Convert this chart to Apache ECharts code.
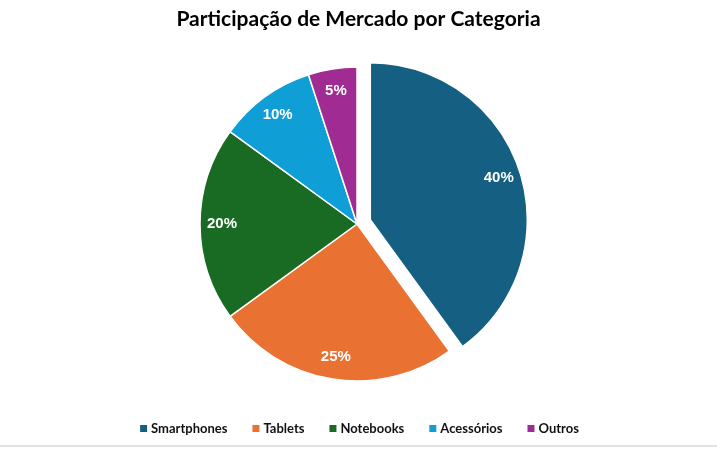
<!DOCTYPE html>
<html>
<head>
<meta charset="utf-8">
<script src="https://cdn.jsdelivr.net/npm/echarts@6/dist/echarts.min.js"></script>
<style>
  html, body { margin: 0; padding: 0; background: #fff; }
  #main { width: 717px; height: 449px; }
</style>
</head>
<body>
<div id="main"></div>
<script>
// dados do gráfico
const categorias = ["Smartphones", "Tablets", "Notebooks", "Acessórios", "Outros"];
const valores = [40, 25, 20, 10, 5];
const cores = ["#156082", "#E97132", "#196B24", "#0F9ED5", "#A02B93"];

const chart = echarts.init(document.getElementById("main"), null, { renderer: "canvas" });

const FONT = "Lato, 'Open Sans', sans-serif";
const CENTRO = [357, 224];
const RAIO = 157;
const OFFSET = 14;

// fatia destacada: a primeira (Smartphones)
const dados = categorias.map((nome, i) => ({
  name: nome,
  value: valores[i],
  selected: i === 0,
  itemStyle: { color: cores[i] },
}));

chart.setOption({
  animation: false,
  title: {
    text: "Participação de Mercado por Categoria",
    left: "center",
    top: 4,
    textStyle: { fontFamily: FONT, fontSize: 21, fontWeight: "bold", color: "#000" },
  },
  legend: {
    bottom: 9,
    left: "center",
    icon: "rect",
    itemWidth: 9,
    itemHeight: 9,
    itemGap: 23,
    selectedMode: false,
    textStyle: { fontFamily: FONT, fontSize: 13, fontWeight: "bold", color: "#111", padding: [0, 0, 0, -2] },
    data: categorias,
  },
  graphic: [
    {
      type: "line",
      shape: { x1: 0, y1: 446, x2: 717, y2: 446 },
      style: { stroke: "#d9d9d9", lineWidth: 1.5 },
      silent: true,
    },
  ],
  series: [
    {
      // pizza principal
      type: "pie",
      center: CENTRO,
      radius: [0, RAIO],
      startAngle: 90,
      clockwise: true,
      selectedMode: "single",
      selectedOffset: OFFSET,
      silent: true,
      label: { show: false },
      labelLine: { show: false },
      itemStyle: { borderColor: "#fff", borderWidth: 1.5 },
      data: dados,
    },
    {
      // anel invisível só para posicionar os rótulos perto da borda
      type: "pie",
      center: CENTRO,
      radius: [107, RAIO],
      startAngle: 90,
      clockwise: true,
      selectedMode: "single",
      selectedOffset: OFFSET,
      silent: true,
      itemStyle: { color: "transparent", borderWidth: 0 },
      label: {
        show: true,
        position: "inside",
        formatter: "{c}%",
        fontFamily: "'Liberation Sans', Arial, sans-serif",
        fontSize: 15,
        fontWeight: "bold",
        color: "#fff",
      },
      labelLine: { show: false },
      legendHoverLink: false,
      data: dados.map((d) => ({ name: d.name, value: d.value, selected: d.selected })),
    },
  ],
});
</script>
</body>
</html>
